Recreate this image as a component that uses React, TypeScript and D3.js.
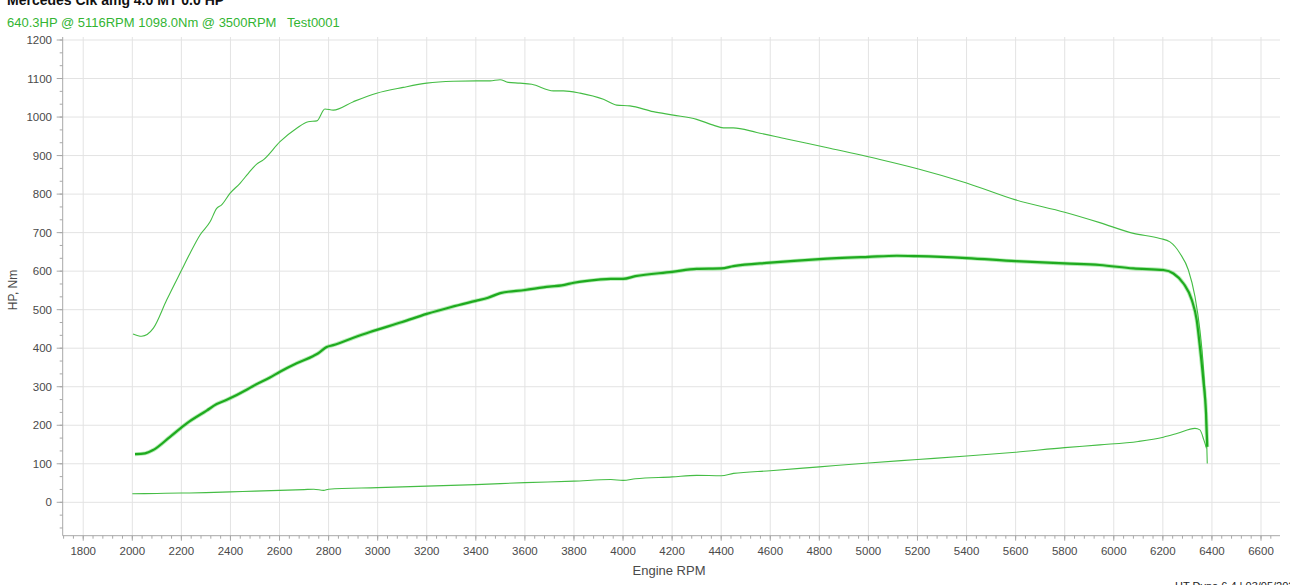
import React from "react";
import * as d3 from "d3";

const title = "Mercedes Clk amg 4.0 MT 0.0 HP";
const subtitle = "640.3HP @ 5116RPM 1098.0Nm @ 3500RPM   Test0001";
const xTicks = [1800, 2000, 2200, 2400, 2600, 2800, 3000, 3200, 3400, 3600, 3800, 4000, 4200, 4400, 4600, 4800, 5000, 5200, 5400, 5600, 5800, 6000, 6200, 6400, 6600];
const yTicks = [0, 100, 200, 300, 400, 500, 600, 700, 800, 900, 1000, 1100, 1200];

const rpmTorque = [2003, 2038, 2086, 2140, 2201, 2235, 2276, 2317, 2344, 2364, 2398, 2439, 2473, 2507, 2534, 2602, 2670, 2717, 2752, 2785, 2819, 2901, 2996, 3104, 3200, 3308, 3404, 3458, 3499, 3532, 3580, 3628, 3716, 3757, 3825, 3920, 3974, 4028, 4123, 4205, 4300, 4368, 4409, 4449, 4545, 4667, 4843, 5047, 5200, 5400, 5600, 5800, 5943, 6080, 6188, 6229, 6270, 6304, 6331, 6351, 6365, 6376, 6381];
const torque = [437, 431, 452, 525, 603, 646, 694, 728, 763, 772, 802, 828, 854, 878, 889, 936, 971, 988, 990, 1021, 1018, 1040, 1062, 1077, 1088, 1093, 1094, 1094, 1097, 1090, 1088, 1085, 1068, 1068, 1062, 1046, 1031, 1029, 1014, 1005, 994, 979, 972, 972, 960, 943, 919, 890, 866, 829, 785, 753, 726, 698, 685, 676, 646, 603, 534, 447, 352, 222, 101];

const rpmPower = [2011, 2052, 2086, 2154, 2222, 2303, 2344, 2385, 2466, 2493, 2561, 2602, 2670, 2738, 2758, 2792, 2819, 2901, 2969, 3100, 3200, 3300, 3400, 3450, 3500, 3600, 3700, 3750, 3800, 3900, 3950, 4000, 4050, 4200, 4300, 4400, 4450, 4600, 4800, 5000, 5116, 5200, 5400, 5600, 5800, 5943, 6080, 6202, 6243, 6284, 6318, 6338, 6351, 6365, 6376, 6381];
const power = [125, 127, 136, 170, 205, 238, 255, 266, 292, 302, 324, 339, 361, 380, 387, 403, 408, 427, 442, 468, 489, 507, 523, 531, 543, 551, 560, 563, 570, 578, 580, 580, 587, 598, 606, 607, 613, 622, 631, 637, 640, 639, 634, 626, 620, 616, 607, 603, 594, 568, 525, 473, 404, 317, 231, 144];

const rpmLoss = [2000, 2100, 2200, 2300, 2400, 2500, 2600, 2700, 2740, 2780, 2800, 3000, 3200, 3400, 3600, 3800, 3950, 4000, 4050, 4200, 4300, 4400, 4450, 4600, 4800, 5000, 5200, 5400, 5600, 5800, 5943, 6100, 6202, 6260, 6331, 6351, 6367, 6378];
const loss = [22, 23, 24, 25, 27, 29, 31, 33, 34, 31, 34, 38, 42, 46, 51, 55, 59, 57, 61, 66, 70, 69, 75, 82, 92, 102, 111, 120, 130, 142, 149, 158, 169, 179, 192, 188, 162, 140];

const W = 1290;
const H = 585;
const left = 62.7;
const right = 1280;
const top = 37;
const bottom = 535.7;

export default function App() {
  const x = d3.scaleLinear().domain([2000, 6600]).range([132.3, 1261]);
  const y = d3.scaleLinear().domain([0, 1200]).range([502.3, 40]);
  const xMin = x.invert(left);
  const xMax = x.invert(right);
  const yMin = y.invert(bottom);

  const mk = (xs: number[], ys: number[]) =>
    d3
      .line<number>()
      .x((_, i) => x(xs[i]))
      .y((v) => y(v))
      .curve(d3.curveMonotoneX)(ys) || "";

  const minorX: number[] = [];
  for (let r = Math.ceil(xMin / 40) * 40; r <= xMax; r += 40) minorX.push(r);
  const minorY: number[] = [];
  for (let k = Math.ceil((yMin * 3) / 100); k <= 36; k++) minorY.push((k * 100) / 3);

  const font = "'Liberation Sans', Arial, sans-serif";
  return (
    <div style={{ position: "fixed", left: 0, top: 0 }}>
      <svg width={W} height={H} style={{ display: "block", background: "#fff" }} fontFamily={font}>
        <rect x={0} y={0} width={W} height={H} fill="#fff" />
        {/* grid */}
        {xTicks.map((t) => (
          <line key={"gx" + t} x1={x(t)} x2={x(t)} y1={top} y2={bottom} stroke="#e3e3e3" strokeWidth={1} />
        ))}
        {yTicks.map((t) => (
          <line key={"gy" + t} x1={left} x2={right} y1={y(t)} y2={y(t)} stroke="#e3e3e3" strokeWidth={1} />
        ))}
        {/* axes */}
        <line x1={left} x2={left} y1={top} y2={bottom} stroke="#a8a8a8" strokeWidth={1} />
        <line x1={left} x2={right} y1={bottom} y2={bottom} stroke="#a8a8a8" strokeWidth={1} />
        {minorX.map((t) => (
          <line key={"mx" + t} x1={x(t)} x2={x(t)} y1={bottom} y2={bottom + 3} stroke="#a8a8a8" />
        ))}
        {xTicks.map((t) => (
          <line key={"tx" + t} x1={x(t)} x2={x(t)} y1={bottom} y2={bottom + 5} stroke="#a8a8a8" />
        ))}
        {minorY.map((t) => (
          <line key={"my" + t} x1={left - 3} x2={left} y1={y(t)} y2={y(t)} stroke="#a8a8a8" />
        ))}
        {yTicks.map((t) => (
          <line key={"ty" + t} x1={left - 6} x2={left} y1={y(t)} y2={y(t)} stroke="#a8a8a8" />
        ))}
        {yTicks.map((t) => (
          <text key={"ly" + t} x={52} y={y(t) + 4} textAnchor="end" fontSize={11.5} fill="#4a4a4a">
            {t}
          </text>
        ))}
        {xTicks.map((t) => (
          <text key={"lx" + t} x={x(t)} y={555} textAnchor="middle" fontSize={11.5} fill="#4a4a4a">
            {t}
          </text>
        ))}
        <text x={669} y={575} textAnchor="middle" fontSize={13} fill="#4a4a4a">
          Engine RPM
        </text>
        <text transform="translate(17,290) rotate(-90)" textAnchor="middle" fontSize={12} fill="#4a4a4a">
          HP, Nm
        </text>
        {/* series */}
        <path d={mk(rpmTorque, torque)} fill="none" stroke="#45bd45" strokeWidth={1.1} />
        <path d={mk(rpmLoss, loss)} fill="none" stroke="#45bd45" strokeWidth={1.1} />
        <path d={mk(rpmPower, power)} fill="none" stroke="#2ccc2c" strokeOpacity={0.35} strokeWidth={4} />
        <path d={mk(rpmPower, power)} fill="none" stroke="#1faa1f" strokeWidth={2.2} />
        {/* titles */}
        <text x={7} y={5} fontSize={14} fontWeight="bold" fill="#111">
          {title}
        </text>
        <text x={7} y={26.5} fontSize={13} fill="#33b533" style={{ whiteSpace: "pre" }}>
          {subtitle}
        </text>
        <text x={1175} y={590} fontSize={11} fill="#222">
          HT Dyno 6.4 | 03/05/2024
        </text>
      </svg>
    </div>
  );
}
